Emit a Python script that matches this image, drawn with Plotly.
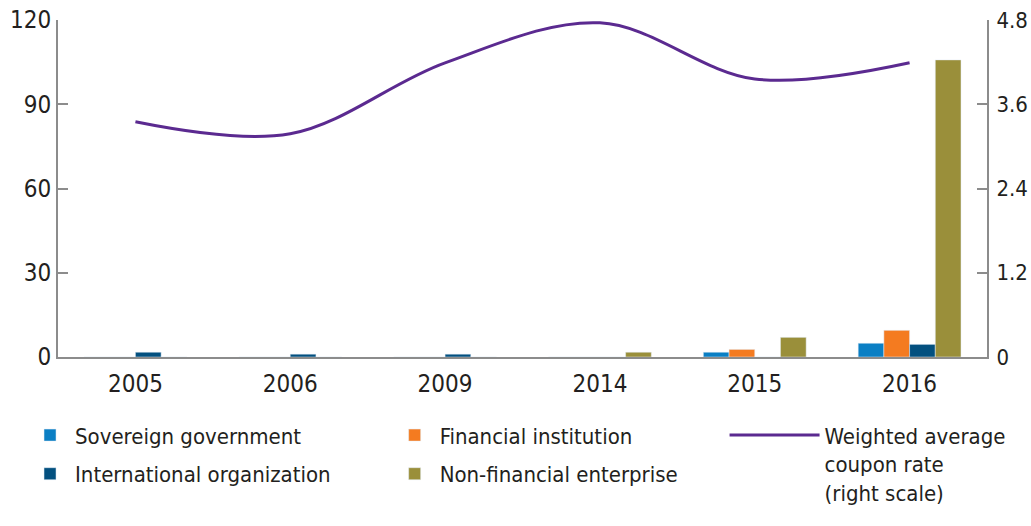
import plotly.graph_objects as go

years = ["2005", "2006", "2009", "2014", "2015", "2016"]
sovereign = [0, 0, 0, 0, 1.7, 4.9]
financial = [0, 0, 0, 0, 2.7, 9.5]
international = [1.7, 1.0, 1.0, 0, 0, 4.5]
nonfinancial = [0, 0, 0, 1.7, 7.0, 105.8]
coupon_rate = [3.35, 3.18, 4.19, 4.76, 3.96, 4.19]

FONT = "DejaVu Sans Condensed, Roboto Condensed, Roboto, sans-serif"
TXT = "#231f20"
GRID = "#8c8c8c"

fig = go.Figure()
fig.add_trace(go.Bar(x=years, y=sovereign, name="Sovereign government",
                     marker_color="#0a7fc4", legend="legend", legendgroup="a"))
fig.add_trace(go.Bar(x=years, y=financial, name="Financial institution",
                     marker_color="#f47b20", legend="legend2", legendgroup="b"))
fig.add_trace(go.Bar(x=years, y=international, name="International organization",
                     marker_color="#03507f", legend="legend", legendgroup="c"))
fig.add_trace(go.Bar(x=years, y=nonfinancial, name="Non-financial enterprise",
                     marker_color="#9a8f3a", legend="legend2", legendgroup="d"))
fig.add_trace(go.Scatter(x=years, y=coupon_rate, yaxis="y2", mode="lines",
                         name="Weighted average<br>coupon rate<br>(right scale)",
                         line=dict(color="#5b2a90", width=3, shape="spline", smoothing=1),
                         legend="legend3"))

legend_common = dict(orientation="v", yanchor="top", xanchor="left",
                     font=dict(family=FONT, size=22, color=TXT),
                     bgcolor="rgba(0,0,0,0)", tracegroupgap=7)

fig.update_layout(
    width=1031, height=526,
    margin=dict(l=58, r=44, t=20, b=169, autoexpand=False),
    paper_bgcolor="white", plot_bgcolor="white",
    font=dict(family=FONT, size=22, color=TXT),
    barmode="group", bargap=0.336, bargroupgap=0,
    xaxis=dict(showline=True, linecolor=GRID, linewidth=2, ticks="",
               tickfont=dict(family=FONT, size=24, color=TXT), ticklabelstandoff=4,
               showgrid=False, zeroline=False),
    yaxis=dict(range=[0, 120], dtick=30, showline=True, linecolor=GRID, linewidth=2,
               ticks="inside", ticklen=10, tickwidth=2, tickcolor=GRID,
               showgrid=False, zeroline=False, ticklabeloverflow="allow",
               tickfont=dict(family=FONT, size=24, color=TXT)),
    yaxis2=dict(range=[0, 4.8], dtick=1.2, overlaying="y", side="right",
                showline=True, linecolor=GRID, linewidth=2,
                ticks="inside", ticklen=10, tickwidth=2, tickcolor=GRID,
                showgrid=False, zeroline=False, ticklabeloverflow="allow",
                ticklabelstandoff=3,
                tickfont=dict(family=FONT, size=22, color=TXT)),
    legend=dict(x=-0.0355, y=-0.17, itemwidth=40, **legend_common),
    legend2=dict(x=0.357, y=-0.17, itemwidth=40, **legend_common),
    legend3=dict(x=0.7175, y=-0.17, itemwidth=90, valign="top", **legend_common),
)

fig.write_html("out.html", config={"displayModeBar": False},
               post_script="document.body.style.margin='0';")
